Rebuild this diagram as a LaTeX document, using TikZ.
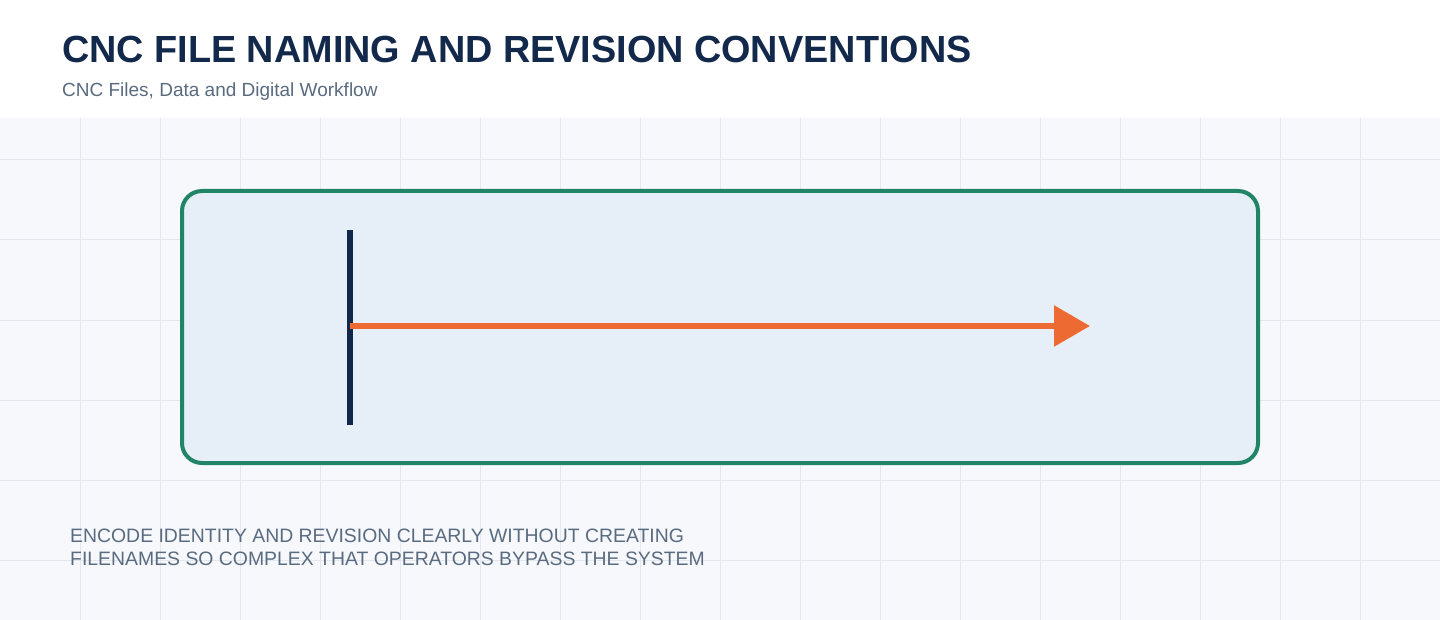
\documentclass[tikz,border=0pt]{standalone}
\usepackage{fontspec}
\setmainfont{Liberation Sans}
\usetikzlibrary{arrows.meta}
\definecolor{navy}{HTML}{13294B}
\definecolor{slate}{HTML}{5A6B80}
\definecolor{boxgreen}{HTML}{218466}
\definecolor{boxfill}{HTML}{E6EEF8}
\definecolor{flow}{HTML}{EE6A33}
\definecolor{gridbg}{HTML}{F6F8FC}
\definecolor{gridline}{HTML}{E3E7EE}
\begin{document}
\begin{tikzpicture}[
    x=1pt, y=-1pt,
    title/.style={anchor=base west, inner sep=0pt, text=navy, font=\fontsize{37.8}{42}\selectfont\bfseries},
    subtitle/.style={anchor=base west, inner sep=0pt, text=slate, font=\fontsize{19}{22}\selectfont},
    note/.style={anchor=north west, inner sep=0pt, text=slate, align=left, font=\fontsize{19.4}{23}\selectfont},
    frame/.style={draw=boxgreen, line width=4pt, fill=boxfill, rounded corners=20pt}
]
    \useasboundingbox (0,0) rectangle (1440,620);
    % background grid
    \fill[white] (0,0) rectangle (1440,118);
    \fill[gridbg] (0,118) rectangle (1440,620);
    \foreach \x in {80,160,...,1360}
        \draw[gridline, line width=1pt] (\x,118) -- (\x,620);
    \foreach \y in {160,240,...,560}
        \draw[gridline, line width=1pt] (0,\y) -- (1440,\y);

    % header
    \node[title] (head) at (62,63) {CNC FILE NAMING AND REVISION CONVENTIONS};
    \node[subtitle] (sub) at (62,97) {CNC Files, Data and Digital Workflow};

    % main panel
    \draw[frame] (182,191) rectangle (1258,463);
    \coordinate (bartop) at (350,230);
    \coordinate (barbot) at (350,425);
    \coordinate (start) at (350,326);
    \coordinate (tip) at (1090,326);
    \draw[navy, line width=6pt] (bartop) -- (barbot);
    \draw[flow, line width=6pt, -{Triangle[length=36pt, width=40pt]}] (start) -- (tip);

    % caption
    \node[note] (cap) at (70,529) {ENCODE IDENTITY AND REVISION CLEARLY WITHOUT CREATING\\FILENAMES SO COMPLEX THAT OPERATORS BYPASS THE SYSTEM};
\end{tikzpicture}
\end{document}
